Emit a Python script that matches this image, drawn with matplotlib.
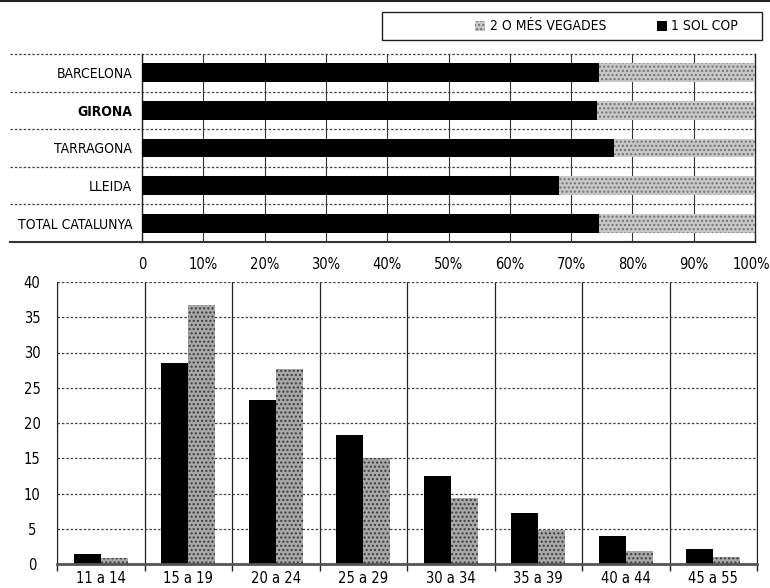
import matplotlib
matplotlib.use("Agg")
import matplotlib.pyplot as plt
from matplotlib.patches import Rectangle
from matplotlib.lines import Line2D
from matplotlib.transforms import ScaledTranslation
import numpy as np

plt.rcParams['font.family'] = ['DejaVu Sans']
plt.rcParams['font.stretch'] = 'condensed'
plt.rcParams['hatch.linewidth'] = 1.0

# ---- data ----
regions = ["BARCELONA", "GIRONA", "TARRAGONA", "LLEIDA", "TOTAL CATALUNYA"]
once_pct = [74.5, 74.2, 77.0, 68.0, 74.5]
more_pct = [25.5, 25.8, 23.0, 32.0, 25.5]
pct_ticks = [0, 10, 20, 30, 40, 50, 60, 70, 80, 90, 100]
pct_labels = ["0", "10%", "20%", "30%", "40%", "50%", "60%", "70%", "80%", "90%", "100%"]

ages = ["11 a 14", "15 a 19", "20 a 24", "25 a 29", "30 a 34", "35 a 39", "40 a 44", "45 a 55"]
once_age = [1.4, 28.5, 23.3, 18.3, 12.5, 7.2, 4.0, 2.1]
more_age = [0.85, 36.7, 27.6, 15.1, 9.3, 4.8, 1.9, 0.95]
y_ticks = [0, 5, 10, 15, 20, 25, 30, 35, 40]

label_once = "1 SOL COP"
label_more = "2 O MÉS VEGADES"

BLACK = "#000000"
GRAY_FACE = "#c8c8c8"
GRAY_HATCH = "#707070"
FS = 10
FS_TICK = 10.5

W, H = 770, 588
fig = plt.figure(figsize=(W / 100, H / 100), dpi=100)

def fx(px):
    return px / W

def fy(py):
    return 1 - py / H

# ---- top chart ----
ax1 = fig.add_axes([fx(142), fy(242), fx(755) - fx(142), fy(54) - fy(242)])
ypos = np.arange(len(regions))
ax1.barh(ypos, once_pct, height=0.5, color=BLACK, linewidth=0, zorder=3)
ax1.barh(ypos, more_pct, left=once_pct, height=0.5, facecolor=GRAY_FACE,
         edgecolor=GRAY_HATCH, hatch="....", linewidth=0, zorder=3)
ax1.set_xlim(0, 100)
ax1.set_ylim(len(regions) - 0.5, -0.5)
ax1.set_yticks(ypos)
ax1.set_yticklabels(regions, fontsize=FS)
for t in ax1.get_yticklabels():
    if t.get_text() == "GIRONA":
        t.set_fontweight("bold")
ax1.set_xticks(pct_ticks)
ax1.set_xticklabels(pct_labels, fontsize=FS_TICK)
ax1.tick_params(axis="y", length=0, pad=7)
ax1.tick_params(axis="x", length=0, pad=11)
xl = ax1.get_xticklabels()
xl[-1].set_transform(xl[-1].get_transform() + ScaledTranslation(-4 / 100, 0, fig.dpi_scale_trans))
ax1.grid(axis="x", color="#333333", linewidth=0.8, linestyle="-", zorder=1)
for s in ["top", "bottom"]:
    ax1.spines[s].set_visible(False)
for s in ["left", "right"]:
    ax1.spines[s].set_color("#222222")
    ax1.spines[s].set_linewidth(1.0)
x_left = (10 - 142) / (755 - 142)
for b in np.arange(-0.5, len(regions) - 0.5 + 1e-9, 1.0):
    last = abs(b - (len(regions) - 0.5)) < 1e-9
    ax1.add_line(Line2D([x_left, 1.0], [b, b],
                        transform=ax1.get_yaxis_transform(),
                        color="#333333" if last else "#444444",
                        linewidth=1.5 if last else 0.9,
                        linestyle="-" if last else (0, (2, 1.5)),
                        clip_on=False, zorder=2))

# ---- bottom chart ----
ax2 = fig.add_axes([fx(57), fy(564), fx(757) - fx(57), fy(282) - fy(564)])
xpos = np.arange(len(ages))
bw = 0.31
ax2.bar(xpos - bw / 2, once_age, width=bw, color=BLACK, linewidth=0, zorder=3)
ax2.bar(xpos + bw / 2, more_age, width=bw, facecolor="#a8a8a8",
        edgecolor="#3a3a3a", hatch="....", linewidth=0, zorder=3)
ax2.set_xlim(-0.5, len(ages) - 0.5)
ax2.set_ylim(0, 40)
ax2.set_yticks(y_ticks)
ax2.set_yticklabels([str(v) for v in y_ticks], fontsize=FS_TICK)
ax2.set_xticks(xpos)
ax2.set_xticklabels(ages, fontsize=FS_TICK)
ax2.tick_params(axis="y", length=0, pad=18)
ax2.tick_params(axis="x", length=0, pad=5)
ax2.set_xticks(np.arange(-0.5, len(ages) - 0.4, 1.0), minor=True)
ax2.tick_params(axis="x", which="minor", length=5, color="#222222", width=1.0)
ax2.grid(axis="x", which="minor", color="#222222", linewidth=0.9, linestyle="-", zorder=1)
ax2.grid(axis="y", which="major", color="#444444", linewidth=0.9, linestyle=(0, (2, 1.5)), zorder=1)
ax2.spines["top"].set_visible(False)
ax2.spines["left"].set_color("#222222")
ax2.spines["right"].set_color("#222222")
ax2.spines["bottom"].set_color("#555555")
ax2.spines["bottom"].set_linewidth(2.0)
ax2.spines["bottom"].set_zorder(4)
for lab in ax2.get_yticklabels():
    lab.set_horizontalalignment("center")

# ---- legend (manual) ----
fig.add_artist(Line2D([0, 1], [fy(1), fy(1)], transform=fig.transFigure,
                      color="#222222", linewidth=1.5))
fig.add_artist(Rectangle((fx(382), fy(40)), fx(762) - fx(382), fy(12) - fy(40),
                         transform=fig.transFigure, fill=False,
                         edgecolor="#222222", linewidth=1.0))
fig.add_artist(Rectangle((fx(475), fy(31)), fx(10), fy(21) - fy(31),
                         transform=fig.transFigure, facecolor=GRAY_FACE,
                         edgecolor=GRAY_HATCH, hatch="....", linewidth=0))
fig.text(fx(490), fy(26), label_more, fontsize=FS, va="center", ha="left")
fig.add_artist(Rectangle((fx(657), fy(31)), fx(10), fy(21) - fy(31),
                         transform=fig.transFigure, facecolor=BLACK, linewidth=0))
fig.text(fx(671), fy(26), label_once, fontsize=FS, va="center", ha="left")

fig.savefig("out.png", dpi=100)
